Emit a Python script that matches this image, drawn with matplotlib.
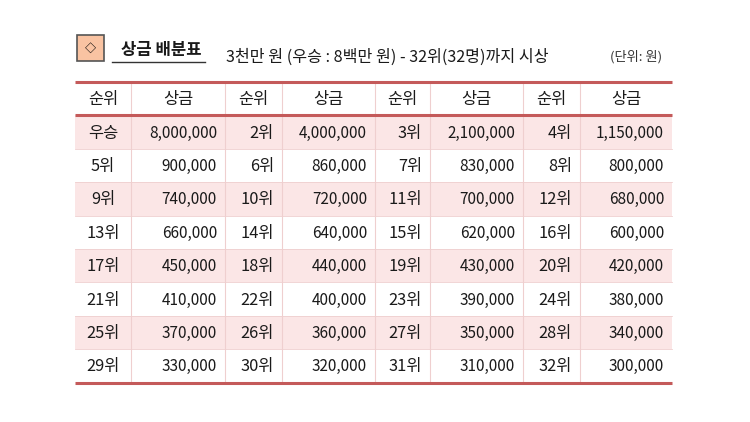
import matplotlib.pyplot as plt
from matplotlib.patches import Rectangle

plt.rcParams['font.family'] = ['Noto Sans CJK KR', 'DejaVu Sans']

# 표 데이터
title = '상금 배분표'
subtitle = '3천만 원 (우승 : 8백만 원) - 32위(32명)까지 시상'
unit = '(단위: 원)'
headers = ['순위', '상금']
ranks = ['우승'] + ['%d위' % i for i in range(2, 33)]
prizes = [8000000, 4000000, 2100000, 1150000,
          900000, 860000, 830000, 800000,
          740000, 720000, 700000, 680000,
          660000, 640000, 620000, 600000,
          450000, 440000, 430000, 420000,
          410000, 400000, 390000, 380000,
          370000, 360000, 350000, 340000,
          330000, 320000, 310000, 300000]

n_pairs = 4
n_rows = len(ranks) // n_pairs

# 레이아웃 (픽셀 좌표)
col_x = [75, 131, 225, 282, 375, 430, 523, 580, 672]
top = 82
row_h = 33.4
pad = 8
base_off = 5.5   # 행 중앙에서 글자 기준선까지

line_red = '#c45a5a'
pink = '#fbe6e6'
grid_pink = '#efcfcf'
text_c = '#1a1a1a'

fig = plt.figure(figsize=(7.5, 4.22), dpi=100)
ax = fig.add_axes([0, 0, 1, 1])
ax.set_xlim(0, 750)
ax.set_ylim(422, 0)
ax.axis('off')

# 제목 상자
ax.add_patch(Rectangle((77, 35), 27, 26, facecolor='#f9c3a2',
                       edgecolor='#555555', linewidth=1.2))
ax.text(90.5, 48.5, '◇', ha='center', va='center', fontsize=8,
        fontweight='bold', color='#000000',
        family=['Noto Sans CJK KR', 'DejaVu Sans'])
ax.text(161, 49 + 5.5, title, ha='center', va='baseline', fontsize=12,
        fontweight='bold', color=text_c)
ax.plot([112, 205], [62, 62], color='#333333', linewidth=1)
ax.text(226, 56 + 5.5, subtitle, ha='left', va='baseline', fontsize=11.6,
        color=text_c)
ax.text(662, 56 + 4.5, unit, ha='right', va='baseline', fontsize=9.5,
        color='#333333')

# 행 배경
for r in range(n_rows):
    y0 = top + row_h * (r + 1)
    if r % 2 == 0:
        ax.add_patch(Rectangle((col_x[0], y0), col_x[-1] - col_x[0], row_h,
                               facecolor=pink, edgecolor='none'))
    if r > 0:
        ax.plot([col_x[0], col_x[-1]], [y0, y0], color=grid_pink,
                linewidth=0.6)

# 세로선
bottom = top + row_h * (n_rows + 1)
for x in col_x[1:-1]:
    ax.plot([x, x], [top, bottom], color=grid_pink, linewidth=0.8)

# 굵은 가로선
for y in [top, top + row_h, bottom]:
    ax.plot([col_x[0], col_x[-1]], [y, y], color=line_red, linewidth=2.2,
            solid_capstyle='butt')

# 머리글
for c in range(n_pairs * 2):
    cx = (col_x[c] + col_x[c + 1]) / 2
    ax.text(cx, top + row_h / 2 + base_off, headers[c % 2], ha='center',
            va='baseline', fontsize=11.8, color=text_c)

# 본문
for i, (rk, pz) in enumerate(zip(ranks, prizes)):
    r, p = divmod(i, n_pairs)
    yb = top + row_h * (r + 1.5) + base_off
    c = p * 2
    if p == 0:
        ax.text((col_x[c] + col_x[c + 1]) / 2, yb, rk, ha='center',
                va='baseline', fontsize=11.8, color=text_c)
    else:
        ax.text(col_x[c + 1] - pad, yb, rk, ha='right', va='baseline',
                fontsize=11.8, color=text_c)
    ax.text(col_x[c + 2] - pad, yb, f'{pz:,}', ha='right', va='baseline',
            fontsize=11, color=text_c)

fig.savefig('out.png', dpi=100)
